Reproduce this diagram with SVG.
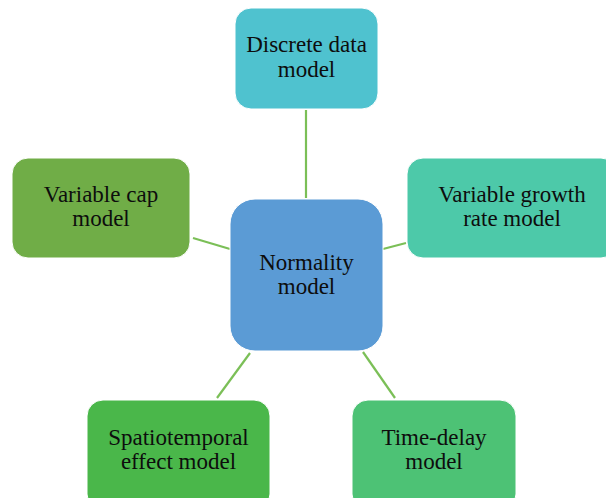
<svg xmlns="http://www.w3.org/2000/svg" width="606" height="498" viewBox="0 0 606 498">
  <style>
    .box { stroke: #ffffff; stroke-width: 1; }
    .label { font-family: "Liberation Serif", "Times New Roman", serif; font-size: 23px; fill: #0d0d0d; text-anchor: middle; }
    .link { stroke: #7BBF57; stroke-width: 2.2; fill: none; }
  </style>
  <rect width="606" height="498" fill="#ffffff"/>

  <!-- connectors from the hub to each model -->
  <g id="connectors">
    <line class="link" x1="306" y1="110" x2="306" y2="198"/>
    <line class="link" x1="193" y1="238" x2="230" y2="249"/>
    <line class="link" x1="383" y1="249" x2="406" y2="243"/>
    <line class="link" x1="250" y1="353" x2="217" y2="398"/>
    <line class="link" x1="363" y1="352" x2="395" y2="398"/>
  </g>

  <g id="discrete">
    <rect class="box" x="235" y="8" width="143" height="101" rx="16" fill="#4FC2CF"/>
    <text class="label" x="306.5" y="52">Discrete data</text>
    <text class="label" x="306.5" y="77">model</text>
  </g>

  <g id="variable-cap">
    <rect class="box" x="12" y="158" width="178" height="100" rx="16" fill="#70AD47"/>
    <text class="label" x="101" y="202">Variable cap</text>
    <text class="label" x="101" y="226">model</text>
  </g>

  <g id="variable-growth">
    <rect class="box" x="407" y="158" width="210" height="100" rx="16" fill="#4DC9A9"/>
    <text class="label" x="512" y="202">Variable growth</text>
    <text class="label" x="512" y="226">rate model</text>
  </g>

  <g id="normality">
    <rect class="box" x="230" y="199" width="153" height="152" rx="25" fill="#5B9BD5"/>
    <text class="label" x="306.5" y="270">Normality</text>
    <text class="label" x="306.5" y="294">model</text>
  </g>

  <g id="spatiotemporal">
    <rect class="box" x="87" y="400" width="183" height="110" rx="16" fill="#4AB74A"/>
    <text class="label" x="178.5" y="445">Spatiotemporal</text>
    <text class="label" x="178.5" y="469">effect model</text>
  </g>

  <g id="time-delay">
    <rect class="box" x="352" y="400" width="164" height="110" rx="16" fill="#4DC275"/>
    <text class="label" x="434" y="445">Time-delay</text>
    <text class="label" x="434" y="469">model</text>
  </g>
</svg>
